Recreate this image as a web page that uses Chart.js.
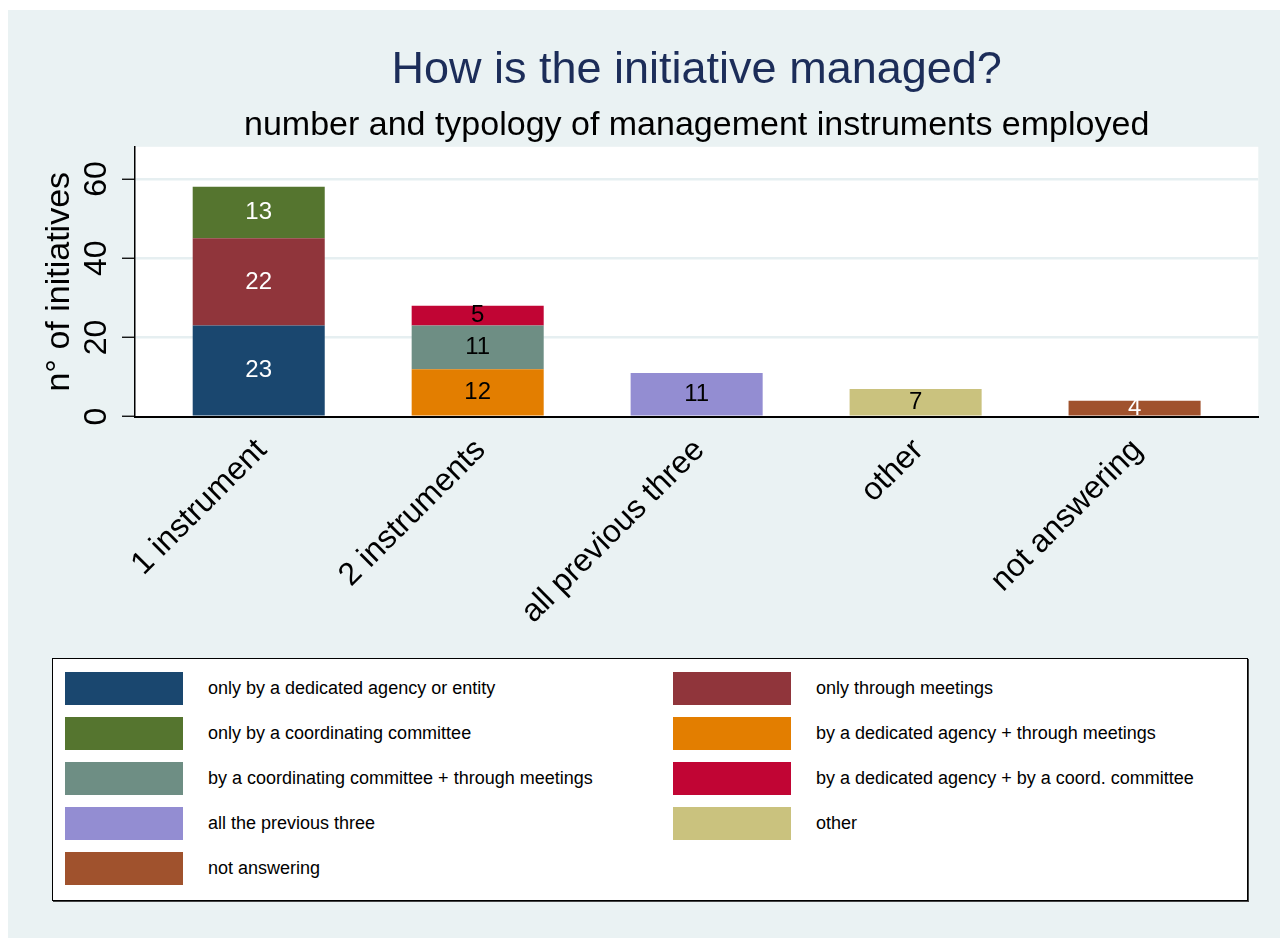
<!DOCTYPE html>
<html>
<head>
<meta charset="utf-8">
<script src="https://cdn.jsdelivr.net/npm/chart.js@4"></script>
<style>
  html, body { margin: 0; padding: 0; background: #fff; }
  body { width: 1288px; height: 938px; position: relative; overflow: hidden; font-family: "Liberation Sans", Arial, sans-serif; }
  #panel { position: absolute; left: 8px; top: 10px; width: 1272px; height: 928px; background: #EAF2F3; }
  #chart { position: absolute; left: 0; top: 0; }
  #legend {
    position: absolute; left: 52px; top: 658px; width: 1196px; height: 243px;
    box-sizing: border-box; background: #fff; border: 1.5px solid #000;
    box-shadow: 1px 1px 0 #444;
    padding: 13px 0 0 12px;
    display: grid; grid-template-columns: 608px 1fr; grid-auto-rows: 45px;
  }
  .item { display: flex; align-items: flex-start; }
  .swatch { width: 118px; height: 33px; flex: none; }
  .item span { font-size: 18px; line-height: 33px; margin-left: 25px; color: #000; white-space: nowrap; }
</style>
</head>
<body>
<div id="panel"></div>
<canvas id="chart" width="1288" height="650"></canvas>
<div id="legend"></div>
<script>
// categories and tick labels
const categories = ['1 instrument', '2 instruments', 'all previous three', 'other', 'not answering'];
const yTicks = [0, 20, 40, 60];

// series (one value per category, null = not present)
const seriesNames = [
    'only by a dedicated agency or entity',
    'only through meetings',
    'only by a coordinating committee',
    'by a dedicated agency + through meetings',
    'by a coordinating committee + through meetings',
    'by a dedicated agency + by a coord. committee',
    'all the previous three',
    'other',
    'not answering'
];
const dedicatedAgency   = [23, null, null, null, null];
const onlyMeetings      = [22, null, null, null, null];
const coordCommittee    = [13, null, null, null, null];
const agencyMeetings    = [null, 12, null, null, null];
const committeeMeetings = [null, 11, null, null, null];
const agencyCommittee   = [null, 5, null, null, null];
const allThree          = [null, null, 11, null, null];
const otherAnswer       = [null, null, null, 7, null];
const notAnswering      = [null, null, null, null, 4];

const seriesValues = [dedicatedAgency, onlyMeetings, coordCommittee, agencyMeetings,
    committeeMeetings, agencyCommittee, allThree, otherAnswer, notAnswering];

// Stata s2color palette
const barColors = ['#1A476F', '#90353B', '#55752F', '#E37E00', '#6E8E84', '#C10534', '#938DD2', '#CAC27E', '#A0522D'];
const labelColors = ['#fff', '#fff', '#fff', '#000', '#000', '#000', '#000', '#000', '#fff'];

const datasets = seriesNames.map((name, i) => ({
    label: name,
    data: seriesValues[i]
        .map((v, j) => ({ x: j, y: v }))
        .filter(p => p.y !== null),
    backgroundColor: barColors[i],
    borderWidth: 0,
    categoryPercentage: 1,
    barPercentage: 0.603
}));

// white plot region
const plotBg = {
    id: 'plotBg',
    beforeDraw(chart) {
        const { ctx, chartArea: a } = chart;
        ctx.save();
        ctx.fillStyle = '#fff';
        ctx.fillRect(a.left, a.top, a.right - a.left, a.bottom - a.top);
        ctx.restore();
    }
};

// value labels in the middle of each segment
const barLabels = {
    id: 'barLabels',
    afterDatasetsDraw(chart) {
        const ctx = chart.ctx;
        ctx.save();
        ctx.font = '24px "Liberation Sans", Arial, sans-serif';
        ctx.textAlign = 'center';
        ctx.textBaseline = 'middle';
        chart.data.datasets.forEach((ds, i) => {
            const meta = chart.getDatasetMeta(i);
            meta.data.forEach((bar, j) => {
                const v = ds.data[j].y;
                if (!v) return;
                ctx.fillStyle = labelColors[i];
                ctx.fillText(String(v), bar.x, (bar.y + bar.base) / 2);
            });
        });
        ctx.restore();
    }
};

const font = '"Liberation Sans", Arial, sans-serif';

const chart = new Chart(document.getElementById('chart'), {
    type: 'bar',
    data: { datasets },
    options: {
        responsive: false,
        animation: false,
        devicePixelRatio: 1,
        layout: { padding: { left: 0, right: 29.7, top: 0, bottom: 0 } },
        plugins: {
            legend: { display: false },
            tooltip: { enabled: false },
            title: {
                display: true,
                fullSize: false,
                text: 'How is the initiative managed?',
                color: '#1C2D59',
                font: { family: font, size: 45, weight: 'normal', lineHeight: 1.2 },
                padding: { top: 43.5, bottom: 0 }
            },
            subtitle: {
                display: true,
                fullSize: false,
                text: 'number and typology of management instruments employed',
                color: '#000',
                font: { family: font, size: 34, weight: 'normal', lineHeight: 1.2 },
                padding: { top: 8, bottom: 0.5 }
            }
        },
        scales: {
            x: {
                type: 'linear',
                stacked: true,
                offset: false,
                min: -0.565,
                max: 4.565,
                afterBuildTicks: (s) => { s.ticks = categories.map((c, i) => ({ value: i })); },
                afterFit: (s) => { s.height = 233.3; },
                grid: { display: false, drawTicks: false, offset: false },
                border: { display: true, color: '#000', width: 2 },
                ticks: {
                    callback: (v) => categories[v],
                    minRotation: 45,
                    maxRotation: 45,
                    padding: 15,
                    labelOffset: 3,
                    color: '#000',
                    font: { family: font, size: 32 }
                }
            },
            y: {
                stacked: true,
                min: 0,
                max: 68.1,
                afterBuildTicks: (s) => { s.ticks = yTicks.map(v => ({ value: v })); },
                afterFit: (s) => { s.width = 135; },
                grid: {
                    color: (c) => c.tick && c.tick.value === 0 ? 'rgba(0,0,0,0)' : '#E6EFF1',
                    lineWidth: 2.5,
                    drawTicks: true,
                    tickLength: 13,
                    tickColor: '#000',
                    tickWidth: 1.3
                },
                border: { display: true, color: '#000', width: 1.5 },
                ticks: {
                    minRotation: 90,
                    maxRotation: 90,
                    crossAlign: 'center',
                    padding: 7.5,
                    color: '#000',
                    font: { family: font, size: 32 }
                },
                title: {
                    display: true,
                    text: 'n° of initiatives',
                    color: '#000',
                    font: { family: font, size: 34, lineHeight: 1.2 },
                    padding: { top: 39.6, bottom: 0 }
                }
            }
        }
    },
    plugins: [plotBg, barLabels]
});

// legend (two columns, row by row, like the Stata key)
const legendBox = document.getElementById('legend');
chart.data.datasets.forEach(ds => {
    const item = document.createElement('div');
    item.className = 'item';
    const sw = document.createElement('div');
    sw.className = 'swatch';
    sw.style.background = ds.backgroundColor;
    const txt = document.createElement('span');
    txt.textContent = ds.label;
    item.appendChild(sw);
    item.appendChild(txt);
    legendBox.appendChild(item);
});
</script>
</body>
</html>
